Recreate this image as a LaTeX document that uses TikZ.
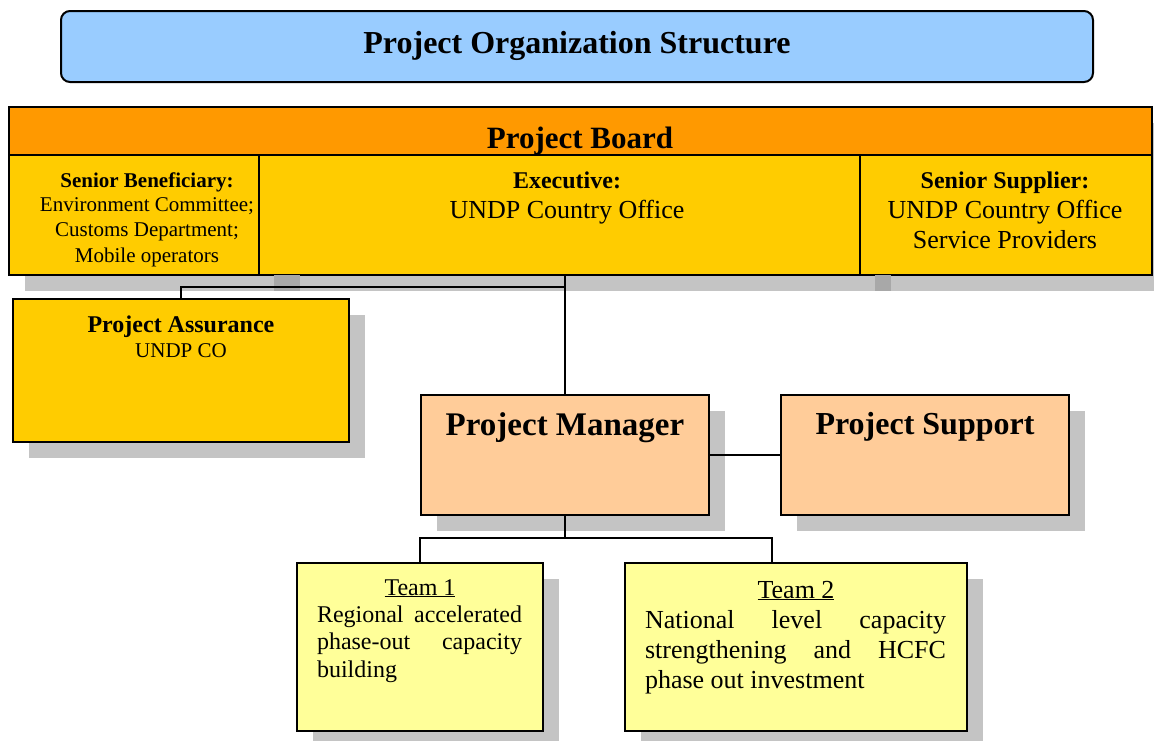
\documentclass[tikz,border=0pt]{standalone}
\usepackage{fontspec}
\setmainfont{Liberation Serif}
\usetikzlibrary{shadows}

\definecolor{titlefill}{HTML}{99CCFF}
\definecolor{boardorange}{HTML}{FF9900}
\definecolor{cellyellow}{HTML}{FFCC00}
\definecolor{peach}{HTML}{FFCC99}
\definecolor{paleyellow}{HTML}{FFFF99}
\definecolor{shadowgray}{HTML}{C4C4C4}
\definecolor{shadowdark}{HTML}{A8A8A8}

% one justified line of a fixed width
\newcommand\jline[2]{\makebox[#1][s]{#2}}

\begin{document}
\begin{tikzpicture}[x=1pt,y=-1pt,
  box/.style={draw, line width=2.2pt, rectangle, inner sep=0pt, outer sep=0pt, anchor=north west},
  shadowed/.style={drop shadow={shadow xshift=16pt, shadow yshift=-16pt, fill=shadowgray, opacity=1}},
  txt/.style={inner sep=0pt, outer sep=0pt, anchor=base, align=center},
  link/.style={line width=1.8pt}]
\useasboundingbox (0,0) rectangle (1154,740);

% title banner
\node[box, rounded corners=9pt, line width=2pt, fill=titlefill,
      minimum width=1032, minimum height=71] (title) at (61,11) {};
\node[txt, font=\bfseries\fontsize{32}{38}\selectfont] (titletext) at (577,53) {Project Organization Structure};

% project board
\node[box, shadowed, fill=cellyellow, minimum width=1143, minimum height=168] (board) at (9,107) {};
\node[box, fill=boardorange, minimum width=1143, minimum height=48] (header) at (9,107) {};
\node[box, fill=cellyellow, minimum width=250, minimum height=120] (sb) at (9,155) {};
\node[box, fill=cellyellow, minimum width=601, minimum height=120] (exec) at (259,155) {};
\node[box, fill=cellyellow, minimum width=292, minimum height=120] (ss) at (860,155) {};
\fill[shadowdark] (274,275) rectangle (300,291);
\fill[shadowdark] (875,275) rectangle (891,291);

\node[txt, font=\bfseries\fontsize{31}{36}\selectfont] (boardtext) at (580,148) {Project Board};

% multi-line texts below are placed by the baseline of their last line
\node[txt, font=\bfseries\fontsize{21}{25}\selectfont] (sbhead) at (147,187) {Senior Beneficiary:};
\node[txt, font=\fontsize{21}{25.5}\selectfont] (sbbody) at (147,262) {Environment Committee;\\Customs Department;\\Mobile operators};

\node[txt, font=\bfseries\fontsize{24}{30}\selectfont] (exechead) at (567,188) {Executive:};
\node[txt, font=\fontsize{26}{30}\selectfont] (execbody) at (567,218) {UNDP Country Office};

\node[txt, font=\bfseries\fontsize{24}{30}\selectfont] (sshead) at (1005,188) {Senior Supplier:};
\node[txt, font=\fontsize{26}{30}\selectfont] (ssbody) at (1005,248) {UNDP Country Office\\Service Providers};

% project assurance
\node[box, shadowed, fill=cellyellow, minimum width=336, minimum height=143] (pa) at (13,299) {};
\node[txt, font=\bfseries\fontsize{24}{30}\selectfont] (pahead) at (181,332) {Project Assurance};
\node[txt, font=\fontsize{21}{25}\selectfont] (pabody) at (181,357) {UNDP CO};

% manager and support
\node[box, shadowed, fill=peach, minimum width=288, minimum height=120] (pm) at (421,395) {};
\node[txt, font=\bfseries\fontsize{33}{38}\selectfont] (pmtext) at (565,435) {Project Manager};
\node[box, shadowed, fill=peach, minimum width=288, minimum height=120] (ps) at (781,395) {};
\node[txt, font=\bfseries\fontsize{32}{38}\selectfont] (pstext) at (925,434) {Project Support};

% teams
\node[box, shadowed, fill=paleyellow, minimum width=246, minimum height=168] (t1) at (297,563) {};
\node[txt, font=\fontsize{24}{28}\selectfont] (t1head) at (420,595) {\underline{Team 1}};
\node[inner sep=0pt, outer sep=0pt, anchor=base west, align=left, font=\fontsize{24}{27.5}\selectfont]
  (t1body) at (317,677) {\jline{205pt}{Regional accelerated}\\\jline{205pt}{phase-out capacity}\\building};

\node[box, shadowed, fill=paleyellow, minimum width=342, minimum height=168] (t2) at (625,563) {};
\node[txt, font=\fontsize{26}{30}\selectfont] (t2head) at (796,598) {\underline{Team 2}};
\node[inner sep=0pt, outer sep=0pt, anchor=base west, align=left, font=\fontsize{26}{30}\selectfont]
  (t2body) at (645,688) {\jline{301pt}{National level capacity}\\\jline{301pt}{strengthening and HCFC}\\phase out investment};

% connectors
\coordinate (boardjoin) at (565,287);
\coordinate (teambus) at (565,538);
\coordinate (t2top) at (772,563);
\draw[link] (exec.south -| pm.north) -- (pm.north);
\draw[link] (pa.north) |- (boardjoin);
\draw[link] (pm.east) -- (ps.west);
\draw[link] (pm.south) -- (teambus);
\draw[link] (t1.north) |- (teambus);
\draw[link] (t2top) |- (teambus);
\end{tikzpicture}
\end{document}
